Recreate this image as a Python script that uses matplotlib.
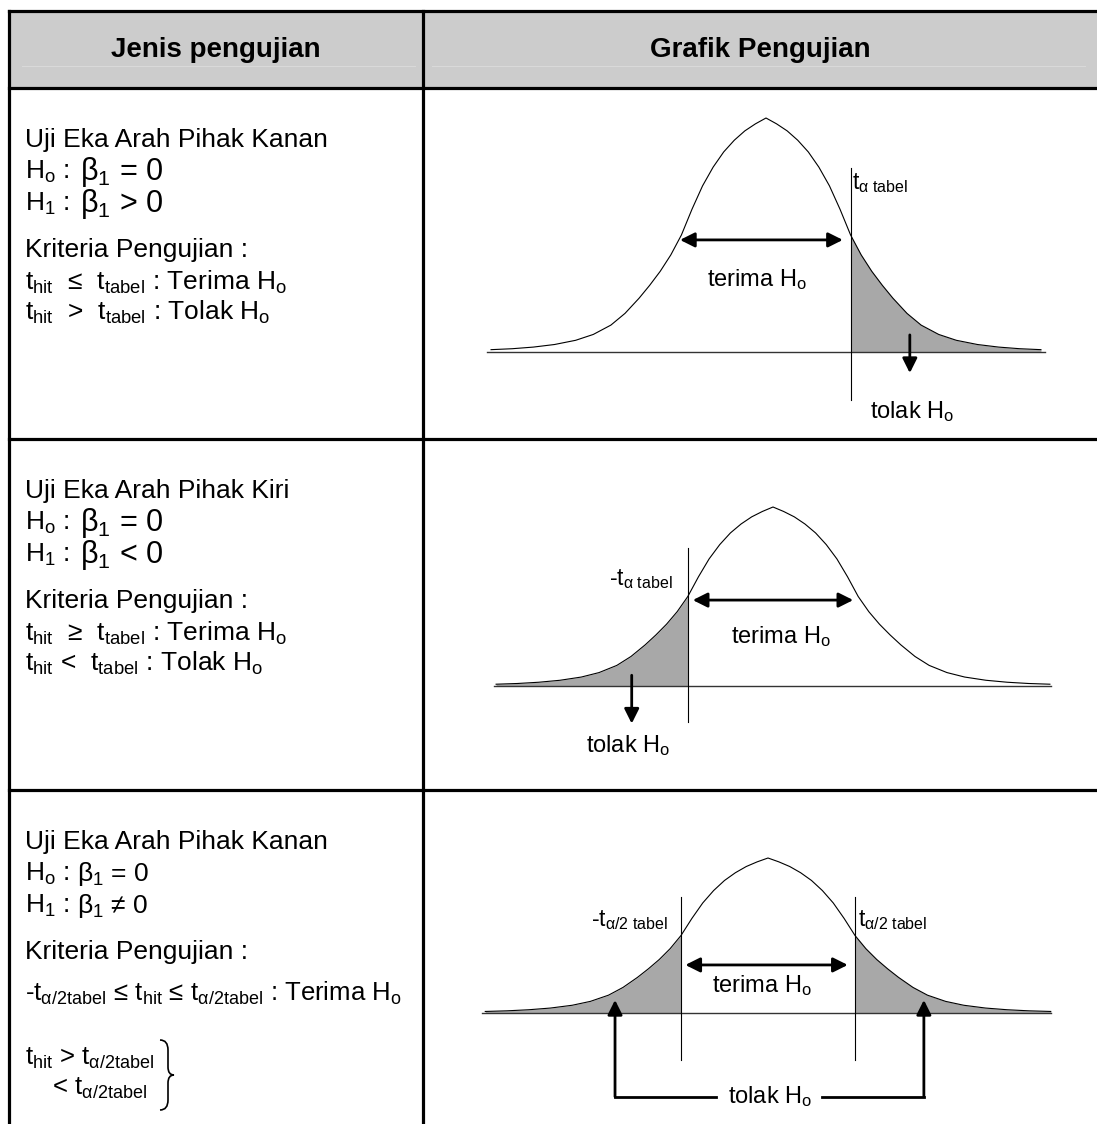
import numpy as np
import matplotlib.pyplot as plt
from matplotlib.path import Path
from matplotlib.patches import PathPatch, Rectangle

plt.rcParams['font.family'] = ['Liberation Sans', 'DejaVu Sans']
plt.rcParams['mathtext.fontset'] = 'custom'
plt.rcParams['mathtext.rm'] = 'Liberation Sans'
plt.rcParams['mathtext.it'] = 'Liberation Sans'
plt.rcParams['mathtext.bf'] = 'Liberation Sans:bold'

W, H = 1097, 1124

# table text
headers = ['Jenis pengujian', 'Grafik Pengujian']
row_titles = ['Uji Eka Arah Pihak Kanan', 'Uji Eka Arah Pihak Kiri', 'Uji Eka Arah Pihak Kanan']
h1_signs = ['>', '<', '≠']

# bell curve profile (right half, z units, height as fraction of peak)
half_z = [0.0, 0.15, 0.3, 0.45, 0.6, 0.75, 0.9, 1.05, 1.2, 1.35, 1.5, 1.65, 1.8, 2.0, 2.2, 2.45, 2.7,
          3.0, 3.3, 3.6, 3.9]
half_h = [1.0, 0.975, 0.945, 0.905, 0.855, 0.79, 0.71, 0.61, 0.50, 0.415, 0.345, 0.285, 0.23, 0.165,
          0.115, 0.075, 0.05, 0.032, 0.021, 0.014, 0.010]
crit = 1.2

fig = plt.figure(figsize=(W / 100, H / 100), dpi=100)
ax = fig.add_axes([0, 0, 1, 1])
ax.set_xlim(0, W)
ax.set_ylim(H, 0)
ax.axis('off')

# table frame
ax.add_patch(Rectangle((9, 11), W - 9, 77, facecolor='#cccccc', edgecolor='none'))
ax.plot([22, 415], [66, 66], color='#d9d9d9', lw=0.8)
ax.plot([432, 1085], [66, 66], color='#d9d9d9', lw=0.8)
blw = 2.3
for y in [11, 88, 439, 790]:
    ax.plot([9, W], [y, y], color='black', lw=blw, solid_capstyle='projecting')
ax.plot([9, 9], [11, H], color='black', lw=blw)
ax.plot([423, 423], [11, H], color='black', lw=blw)

ax.text(216, 50, headers[0], ha='center', va='center', fontsize=20, fontweight='bold')
ax.text(760, 50, headers[1], ha='center', va='center', fontsize=20, fontweight='bold')

fs = 19
big = 22
lx = 25


def left_cell(top, idx, bigbeta):
    ax.text(lx, top + 52, row_titles[idx], ha='left', va='center', fontsize=fs)
    for k, lab in enumerate([r'H$_\mathrm{o}$ :', r'H$_\mathrm{1}$ :']):
        y = top + 84 + k * 32
        ax.text(lx, y, lab, ha='left', va='center', fontsize=fs)
        sign = '=' if k == 0 else h1_signs[idx]
        if bigbeta:
            ax.text(80, y, r'β$_\mathrm{1}$ ' + sign + ' 0', ha='left', va='center', fontsize=big)
        else:
            ax.text(77, y, r'β$_\mathrm{1}$ ' + sign + ' 0', ha='left', va='center', fontsize=fs)
    ax.text(lx, top + 162, 'Kriteria Pengujian :', ha='left', va='center', fontsize=fs)


left_cell(88, 0, True)
ax.text(lx, 282, r't$_\mathrm{hit}$  ≤  t$_\mathrm{tabel}$ : Terima H$_\mathrm{o}$', ha='left', va='center', fontsize=fs)
ax.text(lx, 312, r't$_\mathrm{hit}$  >  t$_\mathrm{tabel}$ : Tolak H$_\mathrm{o}$', ha='left', va='center', fontsize=fs)

left_cell(439, 1, True)
ax.text(lx, 633, r't$_\mathrm{hit}$  ≥  t$_\mathrm{tabel}$ : Terima H$_\mathrm{o}$', ha='left', va='center', fontsize=fs)
ax.text(lx, 663, r't$_\mathrm{hit}$ <  t$_\mathrm{tabel}$ : Tolak H$_\mathrm{o}$', ha='left', va='center', fontsize=fs)

left_cell(790, 2, False)
ax.text(lx, 993, r'-t$_\mathrm{α/2tabel}$ ≤ t$_\mathrm{hit}$ ≤ t$_\mathrm{α/2tabel}$ : Terima H$_\mathrm{o}$',
        ha='left', va='center', fontsize=18.5)
ax.text(lx, 1058, r't$_\mathrm{hit}$ > t$_\mathrm{α/2tabel}$', ha='left', va='center', fontsize=18.5)
ax.text(52, 1088, r'< t$_\mathrm{α/2tabel}$', ha='left', va='center', fontsize=18.5)

# curly brace
bx, by0, by1 = 160, 1040, 1110
bm = (by0 + by1) / 2
verts = [(bx, by0), (bx + 8, by0), (bx + 8, by0 + 10), (bx + 8, bm - 8), (bx + 8, bm), (bx + 14, bm),
         (bx + 8, bm), (bx + 8, bm + 8), (bx + 8, by1 - 10), (bx + 8, by1), (bx, by1)]
codes = [Path.MOVETO, Path.CURVE3, Path.CURVE3, Path.LINETO, Path.CURVE3, Path.CURVE3,
         Path.CURVE3, Path.CURVE3, Path.LINETO, Path.CURVE3, Path.CURVE3]
ax.add_patch(PathPatch(Path(verts, codes), facecolor='none', edgecolor='black', lw=1.2))


def chart_axes(cx, by, s, hpk):
    # data units: x in z (s px each), y in fractions of the peak height (hpk px)
    x0, x1 = cx - 4.5 * s, cx + 4.5 * s
    ytop, ybot = by - 1.2 * hpk, by + 0.8 * hpk
    a = fig.add_axes([x0 / W, 1 - ybot / H, (x1 - x0) / W, (ybot - ytop) / H])
    a.set_xlim(-4.5, 4.5)
    a.set_ylim(-0.8, 1.2)
    a.axis('off')
    return a


z = np.concatenate([-np.array(half_z[:0:-1]), np.array(half_z)])
hh = np.concatenate([np.array(half_h[:0:-1]), np.array(half_h)])
shade = '#a8a8a8'
dbl = dict(arrowstyle='<|-|>', color='black', lw=2, mutation_scale=22, shrinkA=0, shrinkB=0)
sgl = dict(arrowstyle='-|>', color='black', lw=2, mutation_scale=22, shrinkA=0, shrinkB=0)
tfs = 17
lfs = 16.5

# chart 1: right tail
c1 = chart_axes(766, 352, 70.5, 234)
c1.fill_between(z, 0, hh, where=z >= crit, color=shade, lw=0)
c1.plot(z, hh, color='black', lw=0.8)
c1.plot([-3.96, 3.96], [0, 0], color='#333333', lw=1)
c1.plot([crit, crit], [0.786, -0.205], color='black', lw=0.8)
c1.text(1.22, 0.72, r't$_\mathrm{α\ tabel}$', ha='left', va='center', fontsize=lfs)
c1.annotate('', xy=(1.09, 0.479), xytext=(-1.22, 0.479), arrowprops=dbl)
c1.text(-0.13, 0.31, r'terima H$_\mathrm{o}$', ha='center', va='center', fontsize=tfs)
c1.annotate('', xy=(2.04, -0.09), xytext=(2.04, 0.073), arrowprops=sgl)
c1.text(2.07, -0.256, r'tolak H$_\mathrm{o}$', ha='center', va='center', fontsize=tfs)

# chart 2: left tail
c2 = chart_axes(773, 686, 71, 179)
c2.fill_between(z, 0, hh, where=z <= -crit, color=shade, lw=0)
c2.plot(z, hh, color='black', lw=0.8)
c2.plot([-3.93, 3.92], [0, 0], color='#333333', lw=1)
c2.plot([-crit, -crit], [0.771, -0.201], color='black', lw=0.8)
c2.text(-1.42, 0.6, r'-t$_\mathrm{α\ tabel}$', ha='right', va='center', fontsize=lfs)
c2.annotate('', xy=(1.13, 0.48), xytext=(-1.13, 0.48), arrowprops=dbl)
c2.text(0.11, 0.274, r'terima H$_\mathrm{o}$', ha='center', va='center', fontsize=tfs)
c2.annotate('', xy=(-1.99, -0.21), xytext=(-1.99, 0.06), arrowprops=sgl)
c2.text(-2.04, -0.33, r'tolak H$_\mathrm{o}$', ha='center', va='center', fontsize=tfs)

# chart 3: two tails
c3 = chart_axes(768, 1013, 72.5, 155)
c3.fill_between(z, 0, hh, where=z >= crit, color=shade, lw=0)
c3.fill_between(z, 0, hh, where=z <= -crit, color=shade, lw=0)
c3.plot(z, hh, color='black', lw=0.8)
c3.plot([-3.94, 3.9], [0, 0], color='#333333', lw=1)
for sgn in [-1, 1]:
    c3.plot([sgn * crit, sgn * crit], [0.748, -0.303], color='black', lw=0.8)
c3.text(-1.38, 0.6, r'-t$_\mathrm{α/2\ tabel}$', ha='right', va='center', fontsize=lfs)
c3.text(1.24, 0.6, r't$_\mathrm{α/2\ tabel}$', ha='left', va='center', fontsize=lfs)
c3.annotate('', xy=(1.1, 0.31), xytext=(-1.14, 0.31), arrowprops=dbl)
c3.text(-0.08, 0.18, r'terima H$_\mathrm{o}$', ha='center', va='center', fontsize=tfs)
for xa in [-2.11, 2.15]:
    c3.annotate('', xy=(xa, 0.084), xytext=(xa, -0.54), arrowprops=sgl)
c3.plot([-2.11, -0.72], [-0.54, -0.54], color='black', lw=2)
c3.plot([0.75, 2.15], [-0.54, -0.54], color='black', lw=2)
c3.text(0.03, -0.54, r'tolak H$_\mathrm{o}$', ha='center', va='center', fontsize=tfs)

fig.savefig('out.png', dpi=100)
